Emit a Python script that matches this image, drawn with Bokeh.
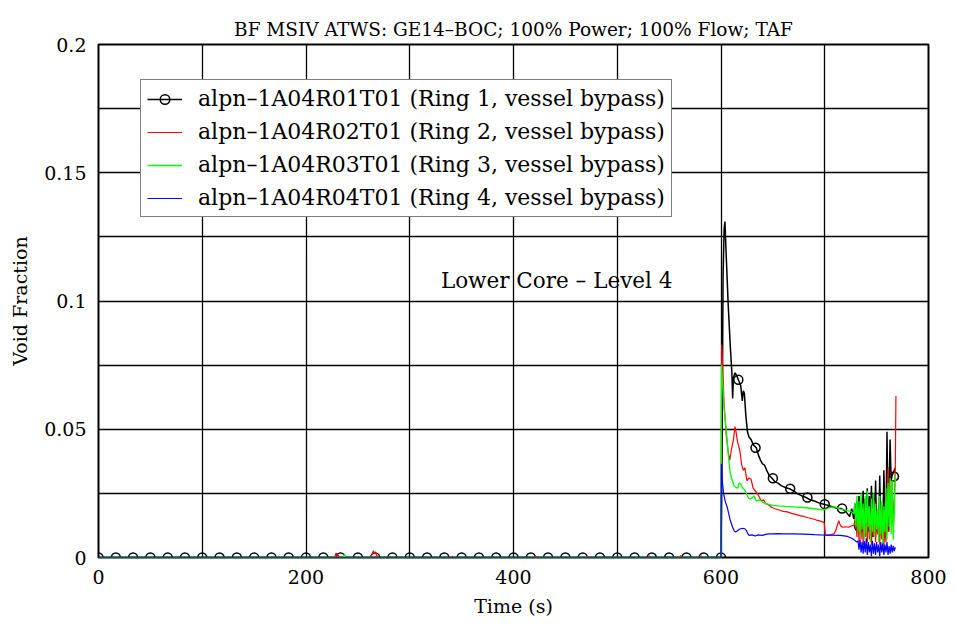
from bokeh.plotting import figure
from bokeh.models import Range1d, FixedTicker, Legend, LegendItem, Label, CustomJSTickFormatter
from bokeh.core.properties import value
from bokeh.embed import file_html
from bokeh.resources import INLINE

# ---------------- data ----------------
ring1_t = [0, 600, 601, 602, 603, 603.8, 605, 607, 609, 610.5, 611.2, 612, 613.5, 615, 617, 619,
           620.5, 621.5, 622.5, 624, 625.5, 627, 629, 631, 634, 636, 638, 640, 642, 644, 646.5, 649,
           652, 655, 658, 662, 666, 670, 674, 678, 682, 686, 690, 695, 699, 704, 708, 712, 716, 720,
           722, 724, 726, 728, 729, 730, 731, 732, 733, 734, 735, 736, 737, 738, 739, 740, 741, 742,
           743, 744, 745, 746, 747, 748, 749, 750, 751, 752, 753, 754, 755, 756, 757, 758, 759, 760,
           761, 762, 763, 764, 765, 766, 767, 768]
ring1_v = [0, 0, 0.04, 0.11, 0.128, 0.131, 0.118, 0.098, 0.082, 0.072, 0.062, 0.070, 0.072, 0.071, 0.069, 0.067,
           0.061, 0.065, 0.064, 0.055, 0.049, 0.047, 0.046, 0.044, 0.0428, 0.040, 0.038, 0.0365, 0.036, 0.034, 0.032, 0.031,
           0.0295, 0.029, 0.028, 0.0273, 0.0268, 0.026, 0.0248, 0.024, 0.0234, 0.0225, 0.022, 0.0212, 0.0208, 0.0202, 0.0197, 0.0192, 0.0191, 0.018,
           0.017, 0.016, 0.019, 0.015, 0.021, 0.012, 0.022, 0.011, 0.024, 0.012, 0.021, 0.010, 0.026, 0.011, 0.023, 0.009, 0.027, 0.010,
           0.024, 0.012, 0.028, 0.008, 0.025, 0.010, 0.030, 0.012, 0.018, 0.009, 0.032, 0.012, 0.020, 0.010, 0.034, 0.015, 0.012, 0.049,
           0.010, 0.028, 0.046, 0.030, 0.032, 0.033, 0.034, 0.035]

ring1_marker_t = [0, 16.7, 33.3, 50, 66.7, 83.3, 100, 116.7, 133.3, 150, 166.7, 183.3, 200, 216.7, 233.3,
                  250, 266.7, 283.3, 300, 316.7, 333.3, 350, 366.7, 383.3, 400, 416.7, 433.3, 450, 466.7,
                  483.3, 500, 516.7, 533.3, 550, 566.7, 583.3, 600, 616.7, 633.3, 650, 666.7, 683.3, 700,
                  716.7, 733.3, 750, 766.7]
ring1_marker_v = [0, 0, 0, 0, 0, 0, 0, 0, 0, 0, 0, 0, 0, 0, 0,
                  0, 0, 0, 0, 0, 0, 0, 0, 0, 0, 0, 0, 0, 0,
                  0, 0, 0, 0, 0, 0, 0, 0, 0.0693, 0.0428, 0.0309, 0.0268, 0.0234, 0.0208,
                  0.0191, 0.012, 0.012, 0.0316]

ring2_t = [0, 227, 228, 229, 230, 231, 232, 262, 263.5, 265, 266, 267, 268, 270, 340, 341, 342, 420, 421, 422,
           470, 471, 472, 530, 531, 532, 560, 561, 562, 580, 581, 582, 599.5,
           600, 600.7, 601.5, 603, 605, 607, 608.5, 610, 612, 613.5, 614.5, 616, 618, 620, 621.5, 623, 625,
           627, 629, 631, 633, 635, 637, 639, 641, 643, 646, 649, 652, 656, 660, 664, 668, 672, 676, 680,
           684, 688, 692, 696, 699.5, 700.5, 703, 706, 709, 711, 713.5, 715, 717, 720, 723, 725, 728,
           730, 731, 732, 733, 734, 735, 736, 737, 738, 739, 740, 741, 742, 743, 744, 745, 746, 747, 748,
           749, 750, 751, 752, 753, 754, 755, 756, 757, 758, 759, 760, 761, 762, 763, 764, 765, 766, 767,
           768, 768.6]
ring2_v = [0, 0, 0.0005, 0.0018, 0.0004, 0.001, 0, 0, 0.001, 0.0026, 0.0015, 0.0022, 0.0008, 0, 0, 0.0006, 0, 0, 0.0005, 0,
           0, 0.0006, 0, 0, 0.0007, 0, 0, 0.0008, 0, 0, 0.0007, 0, 0,
           0, 0.083, 0.075, 0.060, 0.048, 0.041, 0.038, 0.042, 0.046, 0.051, 0.049, 0.045, 0.042, 0.036, 0.034, 0.035, 0.030,
           0.031, 0.0305, 0.027, 0.026, 0.025, 0.0235, 0.022, 0.0225, 0.021, 0.0205, 0.0195, 0.019, 0.0185, 0.018, 0.0178, 0.0172, 0.0168, 0.0163, 0.016,
           0.0155, 0.0151, 0.0146, 0.0142, 0.0136, 0.0088, 0.0086, 0.0089, 0.0092, 0.011, 0.0144, 0.0125, 0.0118, 0.012, 0.0118, 0.0122, 0.0125,
           0.016, 0.008, 0.018, 0.006, 0.015, 0.007, 0.019, 0.005, 0.014, 0.008, 0.017, 0.006, 0.020, 0.007, 0.013, 0.005, 0.016, 0.008, 0.022,
           0.006, 0.014, 0.009, 0.018, 0.005, 0.015, 0.007, 0.020, 0.004, 0.012, 0.006, 0.025, 0.035, 0.010, 0.028, 0.015, 0.030, 0.012, 0.022,
           0.035, 0.063]

ring3_t = [0, 236, 237, 238, 599.5,
           600, 600.5, 601.5, 603, 605, 607, 608.6, 610, 611, 612.5, 614, 616, 617.5, 619, 621, 622.5, 624,
           625.5, 627, 629, 632, 634, 637, 640, 643, 646, 650, 655, 662, 670, 676, 682, 690, 698, 702, 706,
           710, 714, 718, 722, 726, 728,
           729, 730, 731, 732, 733, 734, 735, 736, 737, 738, 739, 740, 741, 742, 743, 744, 745, 746, 747,
           748, 749, 750, 751, 752, 753, 754, 755, 756, 757, 758, 759, 760, 761, 762, 763, 764, 765, 766,
           767, 768, 768.5]
ring3_v = [0, 0, 0.0012, 0, 0,
           0, 0.075, 0.068, 0.058, 0.050, 0.040, 0.034, 0.031, 0.030, 0.028, 0.0274, 0.027, 0.029, 0.0287, 0.027, 0.0265, 0.0255,
           0.024, 0.0229, 0.023, 0.024, 0.022, 0.0225, 0.0216, 0.021, 0.0207, 0.0203, 0.0201, 0.0199, 0.0197, 0.0196, 0.0194, 0.019, 0.0186, 0.019, 0.0196,
           0.0197, 0.019, 0.0187, 0.0183, 0.0178, 0.017,
           0.021, 0.012, 0.024, 0.010, 0.022, 0.008, 0.025, 0.011, 0.021, 0.007, 0.024, 0.009, 0.026, 0.012, 0.020, 0.006, 0.023, 0.010, 0.025,
           0.008, 0.021, 0.011, 0.019, 0.006, 0.024, 0.009, 0.022, 0.005, 0.020, 0.010, 0.027, 0.007, 0.029, 0.012, 0.031, 0.009, 0.030, 0.007,
           0.018, 0.032, 0.030]

ring4_t = [0, 599.5,
           600, 600.4, 601.2, 602.5, 604, 606, 607.5, 609, 611, 612.5, 614, 616, 617.5, 619, 621, 623, 624.5,
           626, 627, 630, 633, 636, 640, 643, 646, 650, 655, 660, 670, 680, 690, 696, 705, 715, 722, 725, 728, 731,
           732, 733, 734, 735, 736, 737, 738, 739, 740, 741, 742, 743, 744, 745, 746, 747, 748, 749, 750,
           751, 752, 753, 754, 755, 756, 757, 758, 759, 760, 761, 762, 763, 764, 765, 766, 767, 768]
ring4_v = [0, 0,
           0, 0.0365, 0.030, 0.025, 0.022, 0.0196, 0.017, 0.0144, 0.012, 0.0105, 0.0099, 0.0104, 0.011, 0.0112, 0.0114, 0.0112, 0.0105,
           0.0092, 0.0086, 0.0088, 0.0084, 0.0088, 0.0086, 0.009, 0.0092, 0.0092, 0.0093, 0.0092, 0.0092, 0.0091, 0.0089, 0.0088, 0.0087, 0.0086, 0.0082, 0.0077, 0.007, 0.006,
           0.0065, 0.003, 0.007, 0.002, 0.006, 0.0015, 0.0065, 0.002, 0.0075, 0.001, 0.006, 0.002, 0.005, 0.0005, 0.0065, 0.0015, 0.0055, 0.001, 0.006,
           0.002, 0.005, 0.0005, 0.006, 0.002, 0.0055, 0.001, 0.005, 0.002, 0.006, 0.001, 0.0045, 0.0015, 0.005, 0.002, 0.0045, 0.0025, 0.004]

x_ticks = [0, 200, 400, 600, 800]
x_grid = [100, 200, 300, 400, 500, 600, 700]
y_ticks = [0, 0.05, 0.1, 0.15, 0.2]
y_grid = [0.025, 0.05, 0.075, 0.1, 0.125, 0.15, 0.175]

labels = ["alpn\u20131A04R01T01 (Ring 1, vessel bypass)",
          "alpn\u20131A04R02T01 (Ring 2, vessel bypass)",
          "alpn\u20131A04R03T01 (Ring 3, vessel bypass)",
          "alpn\u20131A04R04T01 (Ring 4, vessel bypass)"]
title_text = "BF MSIV ATWS: GE14\u2013BOC; 100% Power; 100% Flow; TAF"

# ---------------- figure ----------------
FONT = "DejaVu Serif"
p = figure(width=955, height=625, output_backend="svg", toolbar_location=None,
           x_range=Range1d(0, 800), y_range=Range1d(0, 0.2),
           min_border_left=98, min_border_right=27, min_border_top=44, min_border_bottom=68)
p.background_fill_color = "white"
p.border_fill_color = "white"
p.outline_line_color = "black"
p.outline_line_width = 2

p.title.text = title_text
p.title.text_font = FONT
p.title.text_font_size = "18.5px"
p.title.text_font_style = "normal"
p.title.align = "center"
p.title.text_color = "black"

for ax in (p.xaxis, p.yaxis):
    ax.axis_line_color = None
    ax.major_tick_line_color = None
    ax.minor_tick_line_color = None
    ax.major_label_text_font = FONT
    ax.major_label_text_font_size = "19px"
    ax.major_label_text_color = "black"
    ax.axis_label_text_font = FONT
    ax.axis_label_text_font_size = "19px"
    ax.axis_label_text_font_style = "normal"
    ax.axis_label_text_color = "black"

p.xaxis.ticker = FixedTicker(ticks=x_ticks)
p.yaxis.ticker = FixedTicker(ticks=y_ticks)
p.yaxis.formatter = CustomJSTickFormatter(code="return parseFloat(tick.toFixed(3)).toString();")
p.xaxis.axis_label = "Time (s)"
p.yaxis.axis_label = "Void Fraction"
p.xaxis.major_label_standoff = 6
p.yaxis.major_label_standoff = 6
p.xaxis.axis_label_standoff = 8
p.yaxis.axis_label_standoff = 10

p.xgrid.ticker = FixedTicker(ticks=x_grid)
p.ygrid.ticker = FixedTicker(ticks=y_grid)
for g in (p.xgrid, p.ygrid):
    g.grid_line_color = "black"
    g.grid_line_width = 1.3
    g.grid_line_alpha = 1.0

r1 = p.line(ring1_t, ring1_v, line_color="black", line_width=1.5)
r1m = p.scatter(ring1_marker_t, ring1_marker_v, marker="circle", size=9,
                fill_color="white", fill_alpha=0.0, line_color="black", line_width=1.5)
r2 = p.line(ring2_t, ring2_v, line_color="red", line_width=1.2)
r3 = p.line(ring3_t, ring3_v, line_color="#00ff00", line_width=1.3)
r4 = p.line(ring4_t, ring4_v, line_color="blue", line_width=1.2)

legend = Legend(items=[LegendItem(label=labels[0], renderers=[r1, r1m]),
                       LegendItem(label=labels[1], renderers=[r2]),
                       LegendItem(label=labels[2], renderers=[r3]),
                       LegendItem(label=labels[3], renderers=[r4])],
                location=(42, 340))
legend.label_text_font = FONT
legend.label_text_font_size = "22px"
legend.label_text_color = "black"
legend.border_line_color = "black"
legend.border_line_width = 1.2
legend.background_fill_alpha = 1.0
legend.padding = 6
legend.spacing = 8
legend.label_height = 24
legend.glyph_height = 24
legend.glyph_width = 35
legend.label_standoff = 16
legend.margin = 0
p.add_layout(legend)

note = Label(x=330, y=0.108, text="Lower Core \u2013 Level 4", text_font=FONT,
             text_font_size="21.5px", text_color="black", text_baseline="middle", text_align="left")
p.add_layout(note)

open("out.html", "w").write(file_html(p, INLINE))
